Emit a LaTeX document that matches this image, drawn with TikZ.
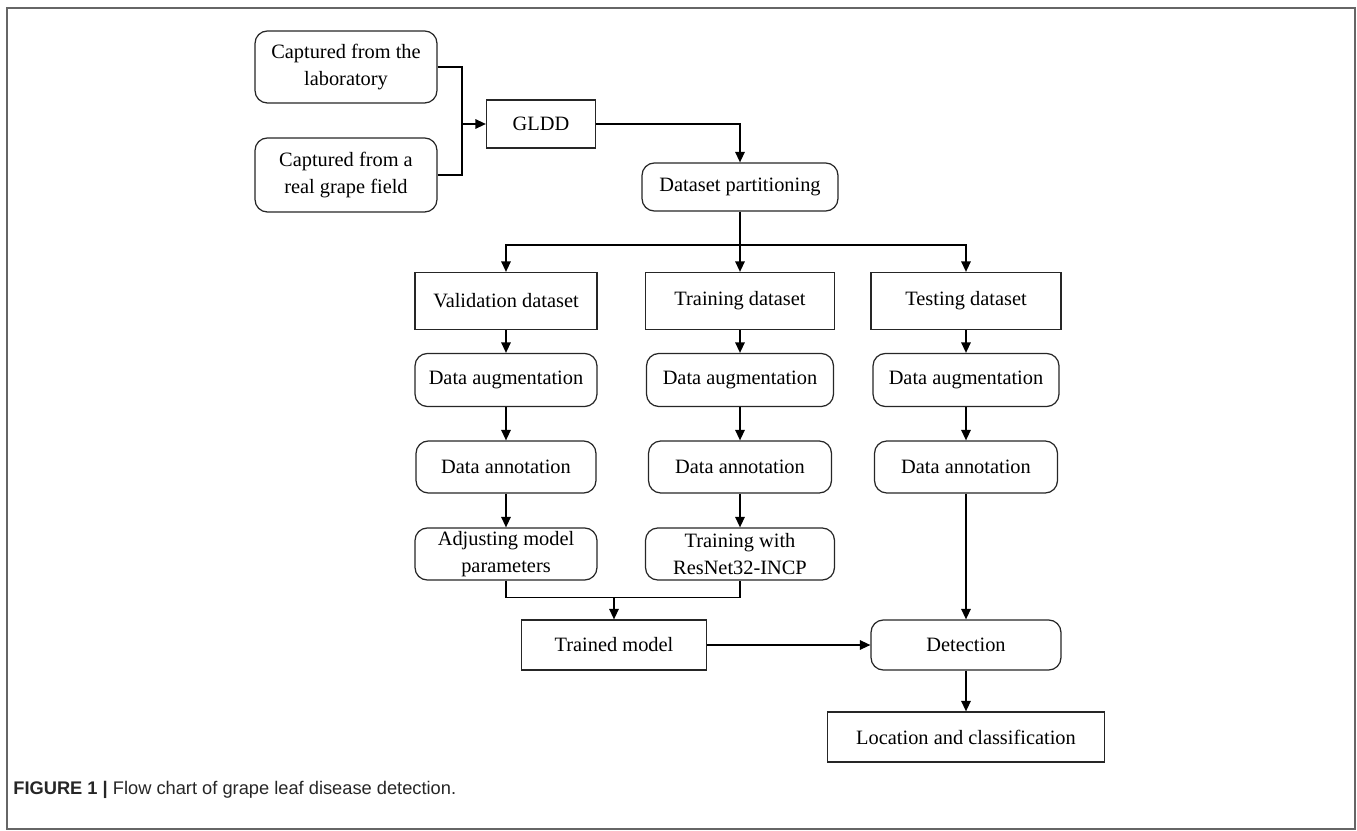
\documentclass[tikz,border=0pt]{standalone}
\usepackage{fontspec}
\setmainfont{Liberation Serif}
\setsansfont{Liberation Sans}
\usetikzlibrary{arrows.meta, positioning, calc}
\tikzset{
  rbox/.style={
    rectangle, rounded corners=7pt,
    draw=black!85, fill=white, line width=0.7pt,
    align=center, inner sep=0pt,
    font=\fontsize{11.6}{15.8}\selectfont
  },
  sbox/.style={rbox, sharp corners},
  lnk/.style={black, line width=0.85pt},
  arr/.style={
    -{Triangle[length=6pt,width=5.4pt]},
    black, line width=0.85pt
  },
}
\begin{document}
\begin{tikzpicture}[x=0.02cm, y=-0.02cm]
  \useasboundingbox (0,0) rectangle (1357,831);
  \draw[black!60, line width=0.9pt] (7,8) rectangle (1355,829);
  % sources
  \node[rbox, minimum width=3.64cm, minimum height=1.44cm] (lab) at (346,67)
    {Captured from the\\laboratory};
  \node[rbox, minimum width=3.64cm, minimum height=1.48cm] (field) at (346,175)
    {Captured from a\\real grape field};
  \node[sbox, minimum width=2.18cm, minimum height=0.96cm] (gldd) at (541,124) {GLDD};
  \node[rbox, minimum width=3.92cm, minimum height=0.96cm] (part) at (740,187)
    {Dataset partitioning};
  % three columns
  \node[sbox, minimum width=3.64cm, minimum height=1.14cm] (val) at (506,301) {Validation dataset};
  \node[sbox, minimum width=3.78cm, minimum height=1.14cm] (train) at (740,301) {Training dataset};
  \node[sbox, minimum width=3.8cm, minimum height=1.14cm] (test) at (966,301) {Testing dataset};
  \node[rbox, minimum width=3.64cm, minimum height=1.06cm] (vaug) at (506,380) {Data augmentation};
  \node[rbox, minimum width=3.74cm, minimum height=1.06cm] (taug) at (740,380) {Data augmentation};
  \node[rbox, minimum width=3.72cm, minimum height=1.06cm] (saug) at (966,380) {Data augmentation};
  \node[rbox, minimum width=3.6cm, minimum height=1.04cm] (vann) at (506,467) {Data annotation};
  \node[rbox, minimum width=3.66cm, minimum height=1.04cm] (tann) at (740,467) {Data annotation};
  \node[rbox, minimum width=3.66cm, minimum height=1.04cm] (sann) at (966,467) {Data annotation};
  \node[rbox, minimum width=3.64cm, minimum height=1.04cm] (adj) at (506,554)
    {Adjusting model\\parameters};
  \node[rbox, minimum width=3.78cm, minimum height=1.04cm] (fit) at (740,554)
    {Training with\\ResNet32-INCP};
  % outputs
  \node[sbox, minimum width=3.7cm, minimum height=1.0cm] (model) at (614,645) {Trained model};
  \node[rbox, minimum width=3.8cm, minimum height=1.0cm] (det) at (966,645) {Detection};
  \node[sbox, minimum width=5.54cm, minimum height=1.0cm] (loc) at (966,737)
    {Location and classification};
  % connectors
  \coordinate (jin) at (462,124);
  \coordinate (split) at (740,245);
  \coordinate (jtr) at (614,597);
  \draw[lnk] (lab.east) -| (jin);
  \draw[lnk] (field.east) -| (jin);
  \draw[arr] (jin) -- (gldd.west);
  \draw[arr] (gldd.east) -| (part.north);
  \draw[lnk] (part.south) -- (split);
  \draw[arr] (split) -| (val.north);
  \draw[arr] (split) -- (train.north);
  \draw[arr] (split) -| (test.north);
  \draw[arr] (val) -- (vaug);
  \draw[arr] (train) -- (taug);
  \draw[arr] (test) -- (saug);
  \draw[arr] (vaug) -- (vann);
  \draw[arr] (taug) -- (tann);
  \draw[arr] (saug) -- (sann);
  \draw[arr] (vann) -- (adj);
  \draw[arr] (tann) -- (fit);
  \draw[lnk] (adj.south) -- ++(0,17) -| (fit.south);
  \draw[arr] (jtr) -- (model.north);
  \draw[arr] (sann) -- (det);
  \draw[arr] (model) -- (det);
  \draw[arr] (det) -- (loc);
  % caption
  \node[anchor=west, inner sep=0pt, font=\sffamily\fontsize{10.4}{12}\selectfont, text=black!85]
    (cap) at (13,790) {\textbf{FIGURE 1 |} Flow chart of grape leaf disease detection.};
\end{tikzpicture}
\end{document}
